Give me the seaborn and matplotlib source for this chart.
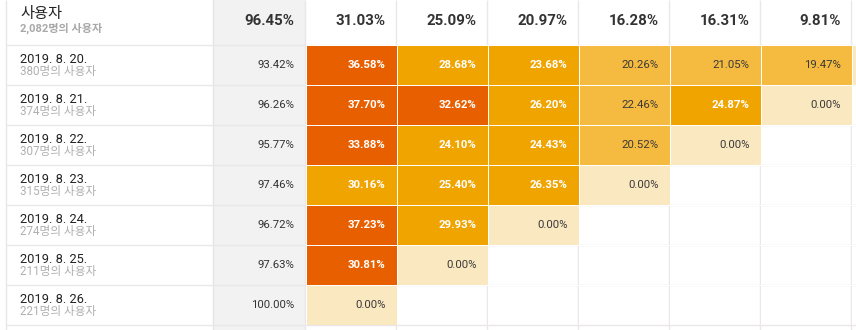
import numpy as np
import pandas as pd
import matplotlib
matplotlib.use("Agg")
import matplotlib.pyplot as plt
from matplotlib.colors import ListedColormap, BoundaryNorm
import seaborn as sns

# ---- data ----
total_label = "사용자"
total_users = "2,082명의 사용자"
header_day0 = "96.45%"
header_values = [31.03, 25.09, 20.97, 16.28, 16.31, 9.81]
cohort_dates = ["2019. 8. 20.", "2019. 8. 21.", "2019. 8. 22.", "2019. 8. 23.",
                "2019. 8. 24.", "2019. 8. 25.", "2019. 8. 26."]
cohort_users = [380, 374, 307, 315, 274, 211, 221]
day0_values = [93.42, 96.26, 95.77, 97.46, 96.72, 97.63, 100.00]
day1 = [36.58, 37.70, 33.88, 30.16, 37.23, 30.81, 0.00]
day2 = [28.68, 32.62, 24.10, 25.40, 29.93, 0.00, None]
day3 = [23.68, 26.20, 24.43, 26.35, 0.00, None, None]
day4 = [20.26, 22.46, 20.52, 0.00, None, None, None]
day5 = [21.05, 24.87, 0.00, None, None, None, None]
day6 = [19.47, 0.00, None, None, None, None, None]
day7 = [0.00, None, None, None, None, None, None]

# ---- style ----
sns.set_theme(style="white")
plt.rcParams["font.family"] = ["Roboto", "Noto Sans CJK KR", "DejaVu Sans"]

W, H = 856, 330
fig = plt.figure(figsize=(W / 100, H / 100), dpi=100)
ax = fig.add_axes([0, 0, 1, 1])
ax.set_xlim(0, W)
ax.set_ylim(H, 0)
ax.axis("off")

grid_c = "#ebe6e9"
col_left = 305.5
col_w = 91.0
header_h = 45
row_h = 40
label_x = 20

# gray day-0 column background
ax.axvspan(213.5, col_left, color="#f2f2f2", zorder=0, lw=0)

# grid lines
ax.vlines([6.5], 0, H, color="#e6e6e6", lw=1, zorder=1)
ax.vlines([213.5], 0, H, color="#e4e4e4", lw=1, zorder=1)
n_rows = len(cohort_dates)
ys = [header_h + row_h * i for i in range(n_rows + 1)]
ax.hlines(ys, 6.5, W, color=grid_c, lw=1, zorder=1)
ncols = 7
xs = [col_left + col_w * k for k in range(ncols + 1)]
ax.vlines(xs, 0, H, color=grid_c, lw=1, zorder=1)

# header texts
ax.text(label_x, 14, total_label, fontsize=11, color="#222222",
        ha="left", va="center", fontweight="medium")
ax.text(label_x, 28, total_users, fontsize=8, color="#a8a8a8",
        ha="left", va="center", fontweight="bold")
ax.text(col_left - 11, 21, header_day0, fontsize=10.8, color="#333333",
        ha="right", va="center", fontweight="bold")
for k, v in enumerate(header_values):
    ax.text(col_left + col_w * (k + 1) - 11, 21, f"{v:.2f}%", fontsize=10.8,
            color="#333333", ha="right", va="center", fontweight="bold")

# row labels and day 0
for i, (d, u, v0) in enumerate(zip(cohort_dates, cohort_users, day0_values)):
    y0 = header_h + row_h * i
    ax.text(label_x, y0 + 14.5, d, fontsize=9.3, color="#222222",
            ha="left", va="center")
    ax.text(label_x, y0 + 27, f"{u}명의 사용자", fontsize=8.4, color="#b0b0b0",
            ha="left", va="center")
    ax.text(col_left - 11, y0 + 20, f"{v0:.2f}%", fontsize=8.2, color="#333333",
            ha="right", va="center")

# ---- retention heatmap ----
df = pd.DataFrame({f"{k + 1}일": col for k, col in
                   enumerate([day1, day2, day3, day4, day5, day6, day7])},
                  index=cohort_dates).astype(float)

colors = ["#fae8c1", "#f5ba40", "#f0a400", "#e85f00"]
cmap = ListedColormap(colors)
norm = BoundaryNorm([-1, 1, 23, 30.5, 101], cmap.N)

hx = fig.add_axes([col_left / W, (H - ys[-1]) / H,
                   ncols * col_w / W, (ys[-1] - header_h) / H])
hx.patch.set_alpha(0)
sns.heatmap(df, ax=hx, cmap=cmap, norm=norm, mask=df.isna(), cbar=False,
            linewidths=0.6, linecolor="white", annot=False,
            xticklabels=False, yticklabels=False)
hx.set_xlabel("")
hx.set_ylabel("")
pad = 11 / col_w
for i in range(df.shape[0]):
    for j in range(df.shape[1]):
        v = df.iat[i, j]
        if np.isnan(v):
            continue
        # text right edge in figure pixels; skip texts lying outside the figure
        if col_left + col_w * (j + 1) - 11 > W:
            continue
        strong = v >= 23
        hx.text(j + 1 - pad, i + 0.5, f"{v:.2f}%", fontsize=8.2,
                color="white" if strong else "#3a3a3a",
                fontweight="bold" if strong else "normal",
                ha="right", va="center")

fig.savefig("out.png", dpi=100)
